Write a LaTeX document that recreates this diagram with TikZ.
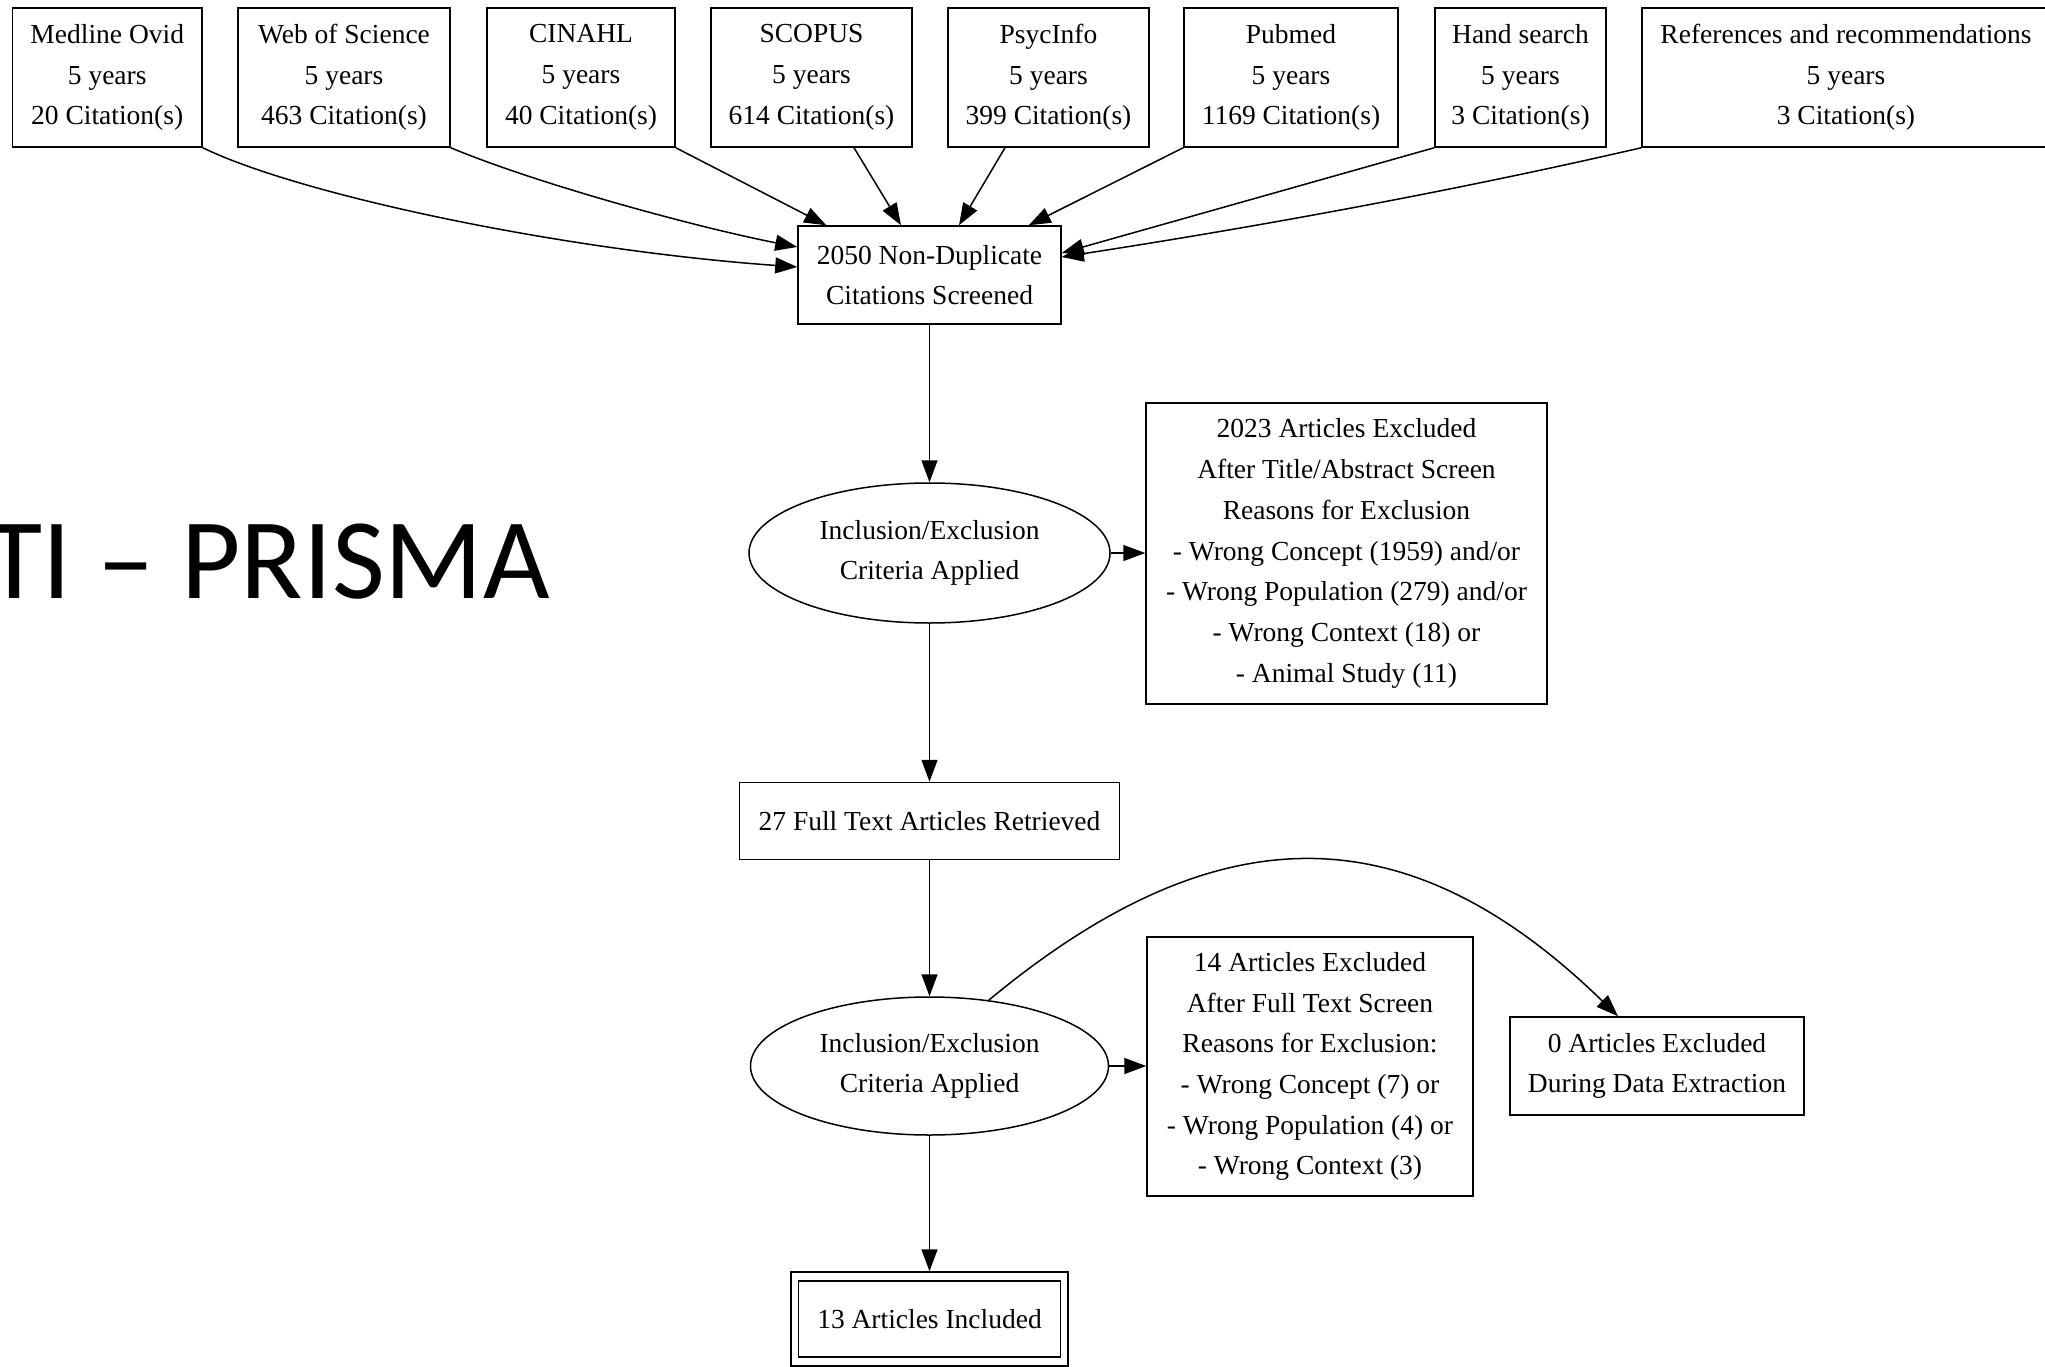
\documentclass[tikz,border=0pt]{standalone}
\usepackage{fontspec}
\setmainfont{Liberation Serif}
\newfontfamily\titlefont{Carlito}
\usetikzlibrary{arrows.meta,shapes.geometric}
\newcommand\gfont{\fontsize{27.5}{40.7}\selectfont}
\tikzset{
  gbox/.style={draw, rectangle, line width=1.5pt, inner sep=0pt, align=center, font=\gfont},
  gell/.style={draw, ellipse, line width=1.5pt, inner sep=0pt, align=center, font=\gfont},
  arr/.style={line width=1.5pt, -{Triangle[length=22pt,width=16pt]}},
}
\begin{document}
\begin{tikzpicture}[x=1pt,y=-1pt]
\useasboundingbox (0,0) rectangle (2045,1367);
\clip (0,0) rectangle (2045,1367);
\fill[white] (0,0) rectangle (2045,1367);

% sources
\node[gbox, minimum width=189.5pt, minimum height=139pt] (med) at (107.25,77.5) {Medline Ovid\\5 years\\20 Citation(s)};
\node[gbox, minimum width=212pt, minimum height=139pt] (wos) at (344,77.5) {Web of Science\\5 years\\463 Citation(s)};
\node[gbox, minimum width=188pt, minimum height=139pt] (cin) at (581,77.5) {CINAHL\\5 years\\40 Citation(s)};
\node[gbox, minimum width=201pt, minimum height=139pt] (sco) at (811.5,77.5) {SCOPUS\\5 years\\614 Citation(s)};
\node[gbox, minimum width=201pt, minimum height=139pt] (psy) at (1048.5,77.5) {PsycInfo\\5 years\\399 Citation(s)};
\node[gbox, minimum width=214pt, minimum height=139pt] (pub) at (1291,77.5) {Pubmed\\5 years\\1169 Citation(s)};
\node[gbox, minimum width=171pt, minimum height=139pt] (hand) at (1520.5,77.5) {Hand search\\5 years\\3 Citation(s)};
\node[gbox, minimum width=408pt, minimum height=139pt] (refs) at (1846,77.5) {References and recommendations\\5 years\\3 Citation(s)};

% flow
\node[gbox, minimum width=263pt, minimum height=98pt] (dup) at (929.5,275) {2050 Non-Duplicate\\Citations Screened};
\node[gell, minimum width=361pt, minimum height=140pt] (ie1) at (929.5,553) {Inclusion/Exclusion\\Criteria Applied};
\node[gbox, minimum width=401pt, minimum height=301pt] (ex1) at (1346.5,553.5) {2023 Articles Excluded\\After Title/Abstract Screen\\Reasons for Exclusion\\- Wrong Concept (1959) and/or\\- Wrong Population (279) and/or\\- Wrong Context (18) or\\- Animal Study (11)};
\node[gbox, minimum width=380pt, minimum height=77pt] (ft) at (929.5,821) {27 Full Text Articles Retrieved};
\node[gell, minimum width=358pt, minimum height=138pt] (ie2) at (929.5,1066) {Inclusion/Exclusion\\Criteria Applied};
\node[gbox, minimum width=326pt, minimum height=259pt] (ex2) at (1310,1066.5) {14 Articles Excluded\\After Full Text Screen\\Reasons for Exclusion:\\- Wrong Concept (7) or\\- Wrong Population (4) or\\- Wrong Context (3)};
\node[gbox, minimum width=294pt, minimum height=98pt] (ex0) at (1657,1066) {0 Articles Excluded\\During Data Extraction};
\node[gbox, minimum width=277pt, minimum height=94pt] (incout) at (929.5,1319) {};
\node[gbox, minimum width=262pt, minimum height=76pt] (inc) at (incout.center) {13 Articles Included};

% title
\node[anchor=base east, inner sep=0pt, font=\titlefont\fontsize{115}{138}\selectfont] (title) at (550,598) {TI – PRISMA};

% edges into dup
\draw[arr] (med.south east) .. controls (300,195) and (560,250) .. ([yshift=8pt]dup.west);
\draw[arr] (wos.south east) .. controls (540,185) and (700,228) .. ([yshift=28pt]dup.west);
\draw[arr] (cin.south east) -- ([xshift=29pt]dup.north west);
\draw[arr] ([xshift=42.5pt]sco.south) -- ([xshift=-28.5pt]dup.north);
\draw[arr] ([xshift=-43.5pt]psy.south) -- ([xshift=29.5pt]dup.north);
\draw[arr] (pub.south west) -- ([xshift=-33pt]dup.north east);
\draw[arr] (hand.south west) -- ([yshift=22pt]dup.east);
\draw[arr] (refs.south west) .. controls (1450,192) and (1250,228) .. ([yshift=18pt]dup.east);

% main flow
\draw[arr] (dup) -- (ie1);
\draw[arr] (ie1.east) -- (ie1.east -| ex1.west);
\draw[arr] (ie1) -- (ft);
\draw[arr] (ft) -- (ie2);
\draw[arr] (ie2.east) -- (ie2.east -| ex2.west);
\draw[arr] (ie2) -- (incout);
\draw[arr] (ie2.48) .. controls (1217,811) and (1407,811) .. ([xshift=-39pt]ex0.north);
\end{tikzpicture}
\end{document}
